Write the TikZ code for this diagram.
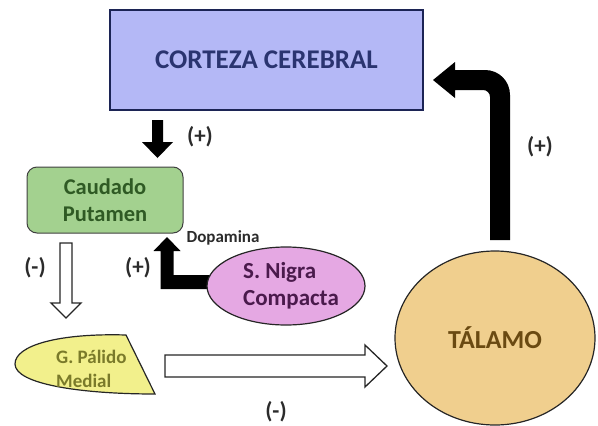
\documentclass[tikz,border=0pt]{standalone}
\usepackage{fontspec}
\setmainfont{Carlito}
\usetikzlibrary{shapes.geometric}
\definecolor{cortfill}{HTML}{B4B8F6}
\definecolor{cortdraw}{HTML}{1C2455}
\definecolor{corttext}{HTML}{2A3470}
\definecolor{caudfill}{HTML}{A3D18F}
\definecolor{caudtext}{HTML}{2F5A24}
\definecolor{nigfill}{HTML}{E5A8E3}
\definecolor{nigtext}{HTML}{4A1A4C}
\definecolor{palfill}{HTML}{F2F08C}
\definecolor{paltext}{HTML}{7A7A2A}
\definecolor{talfill}{HTML}{F0CF8E}
\definecolor{taltext}{HTML}{6A4A12}
\definecolor{labtext}{HTML}{2B2B2B}
\tikzset{
  lbl/.style={font=\fontsize{23}{25}\selectfont\bfseries, text=labtext, inner sep=0pt},
  blockblack/.style={fill=black, draw=none},
  blockhollow/.style={fill=white, draw=black!85, line width=1.3pt, line join=miter},
  boxtext/.style={align=center, font=\bfseries, inner sep=0pt}
}
\begin{document}
\begin{tikzpicture}[x=1pt,y=-1pt]
\useasboundingbox (0,0) rectangle (598,426);

% Corteza
\node[rectangle, draw=cortdraw, fill=cortfill, line width=2.5pt,
  minimum width=313pt, minimum height=100pt,
  font=\fontsize{27}{29}\selectfont\bfseries, text=corttext] (corteza) at (266.5,60) {CORTEZA CEREBRAL};

% Caudado Putamen
\node[rectangle, rounded corners=10pt, draw=black!75, fill=caudfill, line width=1pt,
  minimum width=156pt, minimum height=66pt, boxtext,
  font=\fontsize{22.5}{27}\selectfont\bfseries, text=caudtext] (caudado) at (105,200) {Caudado\\Putamen};

% black down arrow corteza -> caudado
\fill[blockblack] (152,120) -- (163,120) -- (163,142) -- (173,142) -- (157.5,158) -- (142,142) -- (152,142) -- cycle;
\node[lbl] (lplus1) at (200,137) {(+)};

% L-shaped black arrow nigra -> caudado
\fill[blockblack] (215,275) -- (173.5,275) -- (173.5,251) -- (180.5,251) -- (167,237) -- (153.5,251) -- (160.5,251) -- (160.5,289) -- (215,289) -- cycle;

% Substantia nigra
\node[ellipse, draw=black!85, fill=nigfill, line width=1.2pt,
  minimum width=158pt, minimum height=78pt, inner sep=0pt] (nigra) at (286,286) {};
\node[align=left, inner sep=0pt, font=\fontsize{23}{27}\selectfont\bfseries, text=nigtext]
  (nigtxt) at (291,286) {S. Nigra\\Compacta};

\node[font=\fontsize{17}{19}\selectfont\bfseries, text=labtext, inner sep=0pt] (dopa) at (223,238) {Dopamina};
\node[lbl] (lplus2) at (138,268) {(+)};

% hollow down arrow caudado -> palido
\filldraw[blockhollow] (60,243) -- (72,243) -- (72,303) -- (81,303) -- (66,318) -- (51,303) -- (60,303) -- cycle;
\node[lbl] (lminus1) at (35,268) {(-)};

% Palido medial
\filldraw[fill=palfill, draw=black!85, line width=1.2pt]
  (126,335) .. controls (60,333) and (15,345) .. (15,364)
  .. controls (15,384) and (80,394) .. (155,394) -- cycle;
\node[anchor=west, align=left, inner sep=0pt,
  font=\fontsize{19}{24}\selectfont\bfseries, text=paltext] (palido) at (56,369) {G. Pálido\\Medial};

% hollow right arrow palido -> talamo
\filldraw[blockhollow] (165,355) -- (365,355) -- (365,345) -- (387,366) -- (365,387) -- (365,377) -- (165,377) -- cycle;
\node[lbl] (lminus2) at (276,412) {(-)};

% Talamo
\node[ellipse, draw=black!85, fill=talfill, line width=1.2pt,
  minimum width=200pt, minimum height=174pt, inner sep=0pt,
  font=\fontsize{26}{28}\selectfont\bfseries, text=taltext] (talamo) at (495,338) {TÁLAMO};

% thick curved arrow talamo -> corteza
\fill[blockblack] (510,240) -- (510,95) .. controls (510,81) and (499,70) .. (485,70)
  -- (455,70) -- (455,62) -- (433,80) -- (455,98) -- (455,90) -- (483,90)
  .. controls (487,90) and (490,93) .. (490,97) -- (490,240) -- cycle;
\node[lbl] (lplus3) at (540,147) {(+)};

\end{tikzpicture}
\end{document}
